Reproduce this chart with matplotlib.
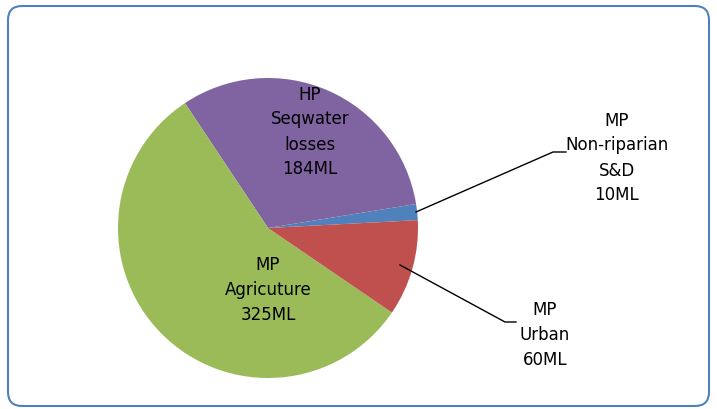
import matplotlib.pyplot as plt
from matplotlib.patches import FancyBboxPatch

labels = ["MP\nNon-riparian\nS&D\n10ML", "HP\nSeqwater\nlosses\n184ML", "MP\nAgricuture\n325ML", "MP\nUrban\n60ML"]
values = [10, 184, 325, 60]
colors = ["#4F81BD", "#8064A2", "#9BBB59", "#C0504D"]

W, H = 717, 409
fig = plt.figure(figsize=(W / 100, H / 100), dpi=100)
ax = fig.add_axes([0, 0, 1, 1])

# rounded frame
frame = FancyBboxPatch((8, 3), 701, 400, boxstyle="round,pad=0,rounding_size=14",
                       fill=False, edgecolor="#4F81BD", linewidth=1.5)
ax.add_patch(frame)

cx, cy, r = 268, H - 228, 150
ax.pie(values, colors=colors, startangle=3, counterclock=True,
       center=(cx, cy), radius=r, frame=True,
       wedgeprops=dict(linewidth=0))

font = dict(fontsize=12, ha="center", va="center", family="DejaVu Sans", linespacing=1.5)
ax.text(310, H - 132, labels[1], **font)
ax.text(268, H - 290, labels[2], **font)
ax.text(617, H - 158, labels[0], **font)
ax.text(545, H - 335, labels[3], **font)

# leader lines
ax.plot([416, 553, 566], [H - 212, H - 152, H - 152], color="black", linewidth=1)
ax.plot([400, 505, 516], [H - 265, H - 322, H - 322], color="black", linewidth=1)

ax.set_xlim(0, W)
ax.set_ylim(0, H)
ax.set_aspect("equal")
ax.axis("off")
fig.savefig("out.png", dpi=100)
